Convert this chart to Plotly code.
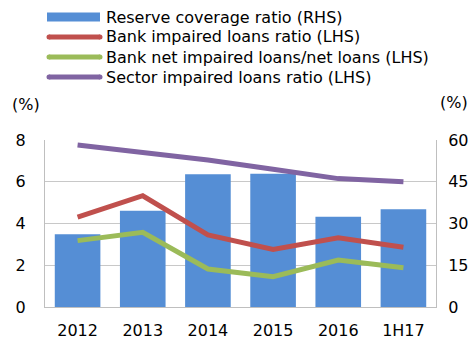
import plotly.graph_objects as go

categories = ["2012", "2013", "2014", "2015", "2016", "1H17"]
reserve_coverage = [26.1, 34.6, 47.7, 47.9, 32.4, 35.1]
bank_impaired = [4.30, 5.33, 3.45, 2.76, 3.32, 2.86]
bank_net_impaired = [3.18, 3.58, 1.82, 1.45, 2.25, 1.88]
sector_impaired = [7.76, 7.41, 7.04, 6.60, 6.15, 6.00]

names = ["Reserve coverage ratio (RHS)", "Bank impaired loans ratio (LHS)",
         "Bank net impaired loans/net loans (LHS)", "Sector impaired loans ratio (LHS)"]
colors = ["#558ED5", "#C0504D", "#9BBB59", "#8064A2"]

W, H = 471, 342
L, R, T, B = 45, 35, 140, 35
PW, PH = W - L - R, H - T - B
FONT = "DejaVu Sans, Liberation Sans, Arial, sans-serif"

def px(x):
    return (x - L) / PW

def py(y):
    return (H - B - y) / PH

fig = go.Figure()
# Bars on the primary (right-hand) axis so the overlaid left-hand lines draw on top
fig.add_trace(go.Bar(x=categories, y=reserve_coverage, name=names[0],
                     marker=dict(color=colors[0], line=dict(width=0)), yaxis="y"))
for vals, nm, c in [(bank_impaired, names[1], colors[1]),
                    (bank_net_impaired, names[2], colors[2]),
                    (sector_impaired, names[3], colors[3])]:
    fig.add_trace(go.Scatter(x=categories, y=vals, name=nm, mode="lines",
                             line=dict(color=c, width=5), yaxis="y2"))

shapes = []
annotations = []
rows = [17, 37, 57, 77]
for i, (nm, c, ry) in enumerate(zip(names, colors, rows)):
    if i == 0:
        shapes.append(dict(type="rect", xref="paper", yref="paper",
                           x0=px(47), x1=px(100), y0=py(ry + 4.5), y1=py(ry - 4.5),
                           fillcolor=c, line=dict(width=0)))
    else:
        shapes.append(dict(type="line", xref="paper", yref="paper",
                           x0=px(49), x1=px(100), y0=py(ry), y1=py(ry),
                           line=dict(color=c, width=5)))
        for ex in (49, 100):
            shapes.append(dict(type="circle", xref="paper", yref="paper",
                               x0=px(ex - 2.5), x1=px(ex + 2.5),
                               y0=py(ry + 2.5), y1=py(ry - 2.5),
                               fillcolor=c, line=dict(width=0)))
    annotations.append(dict(text=nm, xref="paper", yref="paper", x=px(104), y=py(ry),
                            xanchor="left", yanchor="middle", showarrow=False,
                            font=dict(size=16, color="#000000", family=FONT)))

annotations.append(dict(text="(%)", xref="paper", yref="paper", x=px(10), y=py(104),
                        xanchor="left", yanchor="middle", showarrow=False,
                        font=dict(size=16, color="#000000", family=FONT)))
annotations.append(dict(text="(%)", xref="paper", yref="paper", x=px(470), y=py(102),
                        xanchor="right", yanchor="middle", showarrow=False,
                        font=dict(size=16, color="#000000", family=FONT)))

fig.update_layout(
    width=W, height=H,
    margin=dict(l=L, r=R, t=T, b=B, pad=0),
    paper_bgcolor="white", plot_bgcolor="white",
    showlegend=False,
    bargap=0.3,
    font=dict(family=FONT, size=16, color="#000000"),
    shapes=shapes, annotations=annotations,
    xaxis=dict(showgrid=False, showline=True, linecolor="#BFBFBF", linewidth=1,
               ticks="", tickfont=dict(size=16), ticklabelstandoff=9, automargin=False),
    yaxis=dict(range=[0, 60], dtick=15, side="right", showgrid=True,
               gridcolor="#C8C8C8", gridwidth=1, automargin=False,
               showline=True, linecolor="#BFBFBF", linewidth=1, ticks="",
               tickfont=dict(size=16), ticklabelstandoff=8, zeroline=False),
    yaxis2=dict(range=[0, 8], dtick=2, overlaying="y", side="left", showgrid=False,
                showline=True, linecolor="#BFBFBF", linewidth=1, ticks="",
                automargin=False,
                tickfont=dict(size=16), ticklabelstandoff=15, zeroline=False),
)

fig.write_html("out.html")
